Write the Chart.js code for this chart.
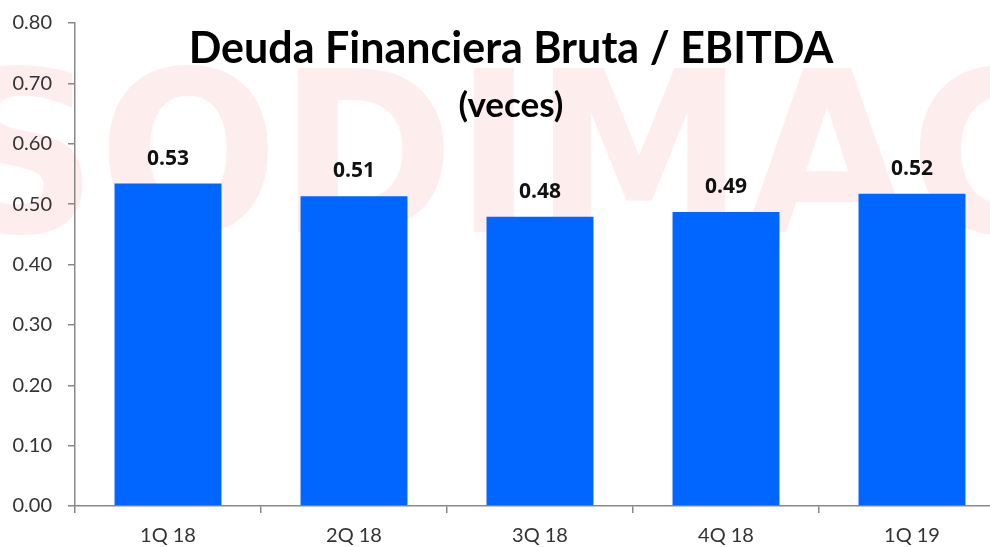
<!DOCTYPE html>
<html>
<head>
<meta charset="utf-8">
<script src="https://cdn.jsdelivr.net/npm/chart.js@4"></script>
<style>
  html, body { margin: 0; padding: 0; background: #fff; overflow: hidden; }
  #wrap { width: 1005px; height: 547px; }
</style>
</head>
<body>
<div id="wrap"><canvas id="ratio-chart"></canvas></div>
<script>
// Dati del grafico
const quarters = ['1Q 18', '2Q 18', '3Q 18', '4Q 18', '1Q 19'];
const ratioValues = [0.534, 0.513, 0.479, 0.487, 0.517];
const yTicks = [0, 0.1, 0.2, 0.3, 0.4, 0.5, 0.6, 0.7, 0.8];

const chartTitle = 'Deuda Financiera Bruta / EBITDA';
const chartSubtitle = '(veces)';
const watermark = 'SODIMAC';

// Marca d'acqua e titolo disegnati a mano
const backdropPlugin = {
    id: 'backdrop',
    beforeDraw(chart) {
        const ctx = chart.ctx;
        ctx.save();
        ctx.fillStyle = 'rgba(240, 110, 110, 0.12)';
        ctx.font = 'bold 225px "DejaVu Sans"';
        ctx.textBaseline = 'alphabetic';
        const w = ctx.measureText(watermark).width;
        const targetW = 1120;
        ctx.translate(-55, 232);
        ctx.scale(targetW / w, 1);
        ctx.fillText(watermark, 0, 0);
        ctx.restore();
    },
    afterDraw(chart) {
        const ctx = chart.ctx;
        ctx.save();
        ctx.fillStyle = '#000';
        ctx.textAlign = 'center';
        ctx.textBaseline = 'alphabetic';
        ctx.font = 'bold 43px Lato';
        ctx.fillText(chartTitle, 511, 63);
        ctx.font = 'bold 35px Lato';
        ctx.fillText(chartSubtitle, 511, 117);
        ctx.restore();
    }
};

// Etichette dei valori sopra le barre
const valueLabels = {
    id: 'valueLabels',
    afterDatasetsDraw(chart) {
        const ctx = chart.ctx;
        const meta = chart.getDatasetMeta(0);
        ctx.save();
        ctx.fillStyle = '#111';
        ctx.font = 'bold 21px "Open Sans"';
        ctx.textAlign = 'center';
        ctx.textBaseline = 'alphabetic';
        meta.data.forEach((bar, i) => {
            ctx.fillText(ratioValues[i].toFixed(2), bar.x, bar.y - 19);
        });
        ctx.restore();
    }
};

const ctx = document.getElementById('ratio-chart').getContext('2d');
new Chart(ctx, {
    type: 'bar',
    data: {
        labels: quarters,
        datasets: [{
            data: ratioValues,
            backgroundColor: '#0066ff',
            borderWidth: 0,
            barPercentage: 0.575,
            categoryPercentage: 1
        }]
    },
    options: {
        responsive: true,
        maintainAspectRatio: false,
        animation: false,
        layout: { padding: { top: 23, right: 0, left: 0, bottom: 0 } },
        plugins: {
            legend: { display: false },
            tooltip: { enabled: false }
        },
        scales: {
            x: {
                offset: true,
                grid: {
                    offset: true,
                    drawOnChartArea: false,
                    drawTicks: true,
                    tickLength: 7,
                    color: '#888',
                    lineWidth: 1.5
                },
                border: { color: '#888', width: 1.5 },
                ticks: {
                    color: '#333',
                    font: { family: 'Lato', size: 20 },
                    padding: 11
                },
                afterFit(scale) { scale.height = 41; }
            },
            y: {
                min: 0,
                max: 0.8,
                afterBuildTicks(scale) {
                    scale.ticks = yTicks.map(v => ({ value: v }));
                },
                grid: {
                    drawOnChartArea: false,
                    drawTicks: true,
                    tickLength: 7,
                    color: '#888',
                    lineWidth: 1.5
                },
                border: { color: '#888', width: 1.5 },
                ticks: {
                    color: '#333',
                    font: { family: 'Lato', size: 20 },
                    padding: 16,
                    callback: v => Number(v).toFixed(2)
                },
                afterFit(scale) {
                    scale.width = 75;
                    scale.paddingTop = 0;
                    scale.paddingBottom = 0;
                }
            }
        }
    },
    plugins: [backdropPlugin, valueLabels]
});
</script>
</body>
</html>
